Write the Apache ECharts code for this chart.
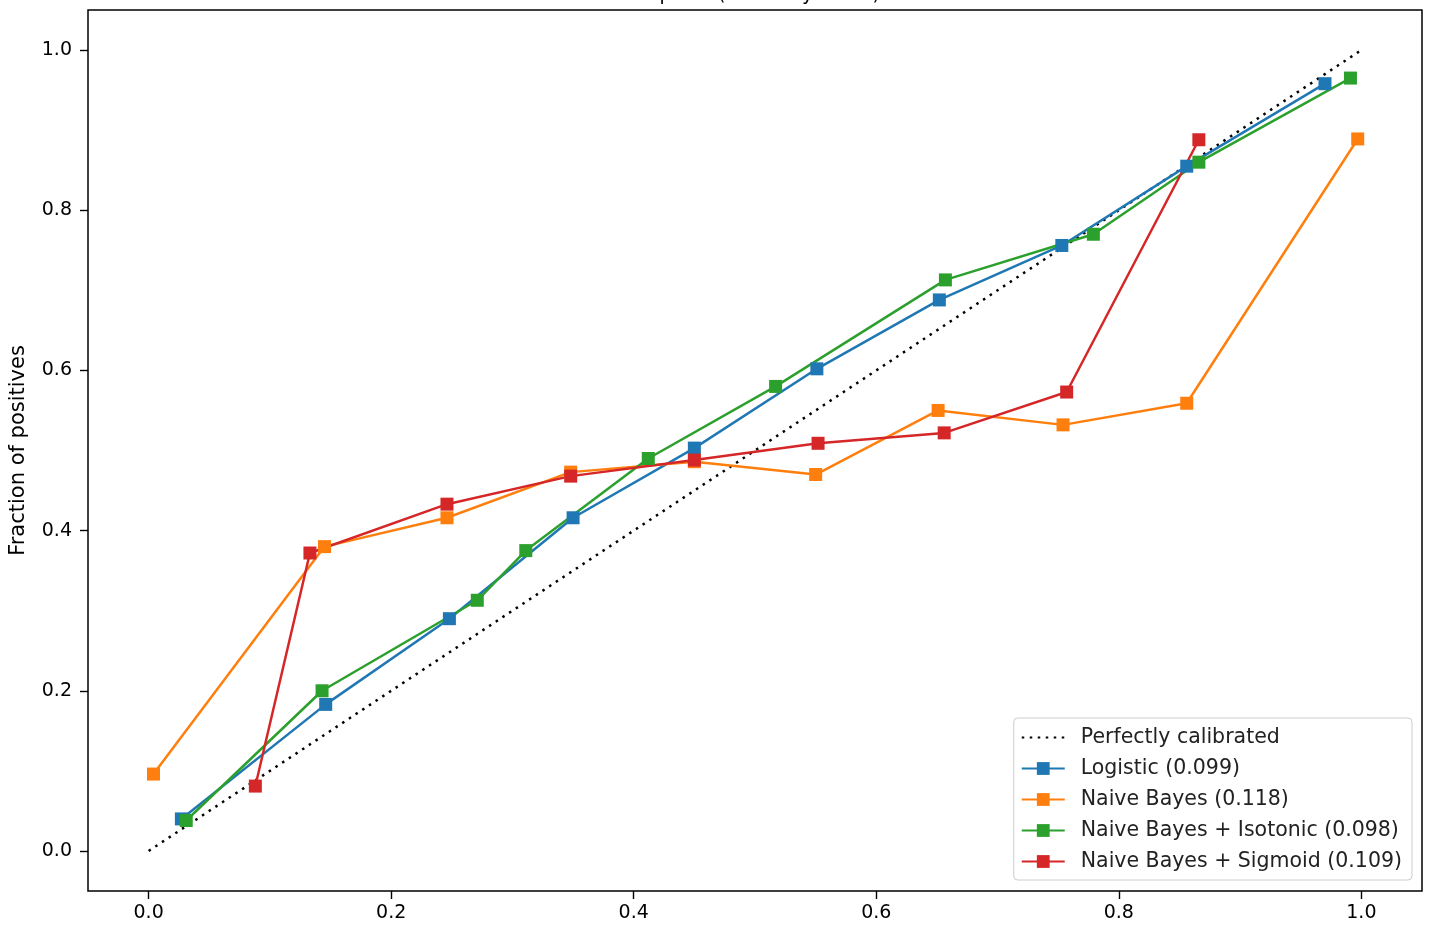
<!DOCTYPE html>
<html>
<head>
<meta charset="utf-8">
<script src="https://cdn.jsdelivr.net/npm/echarts@6/dist/echarts.min.js"></script>
<style>
html,body{margin:0;padding:0;background:#fff;}
#chart{width:1430px;height:926px;}
</style>
</head>
<body>
<div id="chart"></div>
<script>
const titleText = "Calibration plots  (reliability curve)";
const yAxisName = "Fraction of positives";
const tickValues = [0.0, 0.2, 0.4, 0.6, 0.8, 1.0];
const tickLabels = ["0.0", "0.2", "0.4", "0.6", "0.8", "1.0"];

const perfectName = "Perfectly calibrated";
const perfectX = [0, 1];
const perfectY = [0, 1];

const logisticName = "Logistic (0.099)";
const logisticX = [0.027, 0.146, 0.248, 0.350, 0.450, 0.551, 0.652, 0.753, 0.856, 0.970];
const logisticY = [0.040, 0.183, 0.290, 0.416, 0.503, 0.602, 0.688, 0.756, 0.855, 0.958];

const nbName = "Naive Bayes (0.118)";
const nbX = [0.004, 0.145, 0.246, 0.348, 0.450, 0.550, 0.651, 0.754, 0.856, 0.997];
const nbY = [0.096, 0.380, 0.416, 0.473, 0.486, 0.470, 0.550, 0.532, 0.559, 0.889];

const isoName = "Naive Bayes + Isotonic (0.098)";
const isoX = [0.031, 0.143, 0.271, 0.311, 0.412, 0.517, 0.657, 0.779, 0.866, 0.991];
const isoY = [0.038, 0.200, 0.313, 0.375, 0.490, 0.580, 0.713, 0.770, 0.860, 0.965];

const sigName = "Naive Bayes + Sigmoid (0.109)";
const sigX = [0.088, 0.133, 0.246, 0.348, 0.450, 0.552, 0.656, 0.757, 0.866];
const sigY = [0.081, 0.372, 0.433, 0.468, 0.488, 0.509, 0.522, 0.573, 0.888];

function pairs(xs, ys){ return xs.map((x,i)=>[x, ys[i]]); }

const FONT = "DejaVu Sans";
const colors = ["#000000", "#1f77b4", "#ff7f0e", "#2ca02c", "#d62728"];

function markerSeries(name, xs, ys, color){
  return {
    name: name,
    type: 'line',
    data: pairs(xs, ys),
    symbol: 'rect',
    symbolSize: 13,
    showSymbol: true,
    color: color,
    lineStyle: {color: color, width: 2.5},
    itemStyle: {color: color},
    animation: false,
    emphasis: {disabled: true}
  };
}

function tickFmt(v){
  const i = tickValues.findIndex(t => Math.abs(t - v) < 1e-9);
  return i >= 0 ? tickLabels[i] : '';
}

const chart = echarts.init(document.getElementById('chart'), null, {renderer: 'canvas'});
chart.setOption({
  animation: false,
  backgroundColor: '#ffffff',
  textStyle: {fontFamily: FONT},
  title: {
    text: titleText,
    left: 'center',
    top: -19,
    textStyle: {fontFamily: FONT, fontSize: 19, fontWeight: 'normal', color: '#000'}
  },
  grid: {
    left: 87, right: 8, top: 10, bottom: 35,
    show: true, borderColor: '#000', borderWidth: 1.5,
    containLabel: false
  },
  xAxis: {
    type: 'value',
    min: -0.05, max: 1.05,
    axisLine: {show: false, onZero: false},
    axisTick: {show: true, customValues: tickValues, length: 8, lineStyle: {color: '#000', width: 1.4}},
    axisLabel: {
      customValues: tickValues,
      formatter: tickFmt,
      color: '#000', fontSize: 19, fontFamily: FONT, margin: 13
    },
    splitLine: {show: false}
  },
  yAxis: {
    type: 'value',
    min: -0.05, max: 1.05,
    name: yAxisName,
    nameLocation: 'middle',
    nameRotate: 90,
    nameGap: 59,
    nameTextStyle: {color: '#000', fontSize: 21, fontFamily: FONT},
    axisLine: {show: false, onZero: false},
    axisTick: {show: true, customValues: tickValues, length: 8, lineStyle: {color: '#000', width: 1.4}},
    axisLabel: {
      customValues: tickValues,
      formatter: tickFmt,
      color: '#000', fontSize: 19, fontFamily: FONT, margin: 16
    },
    splitLine: {show: false}
  },
  legend: {
    orient: 'vertical',
    right: 18,
    bottom: 46,
    itemWidth: 43,
    itemHeight: 16,
    itemGap: 10,
    padding: [9, 10, 8, 7],
    backgroundColor: 'rgba(255,255,255,0.85)',
    borderColor: '#cccccc',
    borderWidth: 1,
    borderRadius: 4,
    textStyle: {fontFamily: FONT, fontSize: 20.5, color: '#222', padding: [0, 0, 0, 11]},
    data: [
      {name: perfectName, itemStyle: {opacity: 0, color: 'rgba(0,0,0,0)'}},
      logisticName, nbName, isoName, sigName
    ]
  },
  series: [
    {
      name: perfectName,
      type: 'line',
      data: pairs(perfectX, perfectY),
      symbol: 'none',
      color: '#000',
      lineStyle: {color: '#000', width: 2.5, type: [2.5, 5.5]},
      animation: false,
      emphasis: {disabled: true}
    },
    markerSeries(logisticName, logisticX, logisticY, colors[1]),
    markerSeries(nbName, nbX, nbY, colors[2]),
    markerSeries(isoName, isoX, isoY, colors[3]),
    markerSeries(sigName, sigX, sigY, colors[4])
  ]
});
</script>
</body>
</html>
